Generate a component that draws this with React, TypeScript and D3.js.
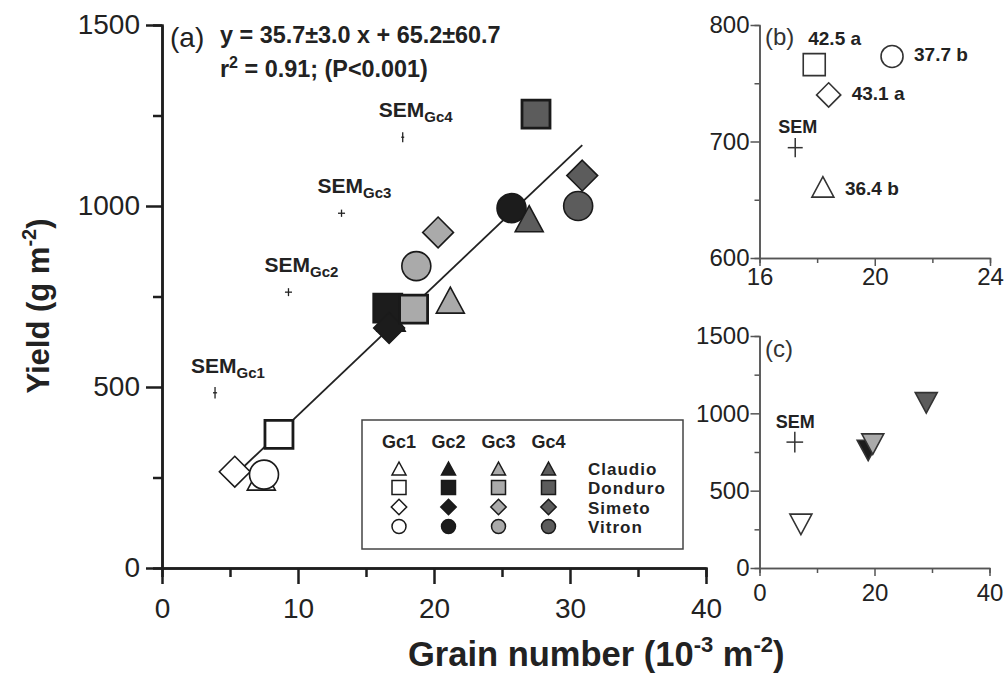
import { useRef, useEffect } from 'react';
import * as d3 from 'd3';

// genotipi e classi (Gc = gruppi di condizioni colturali)
const cultivars = ['Claudio', 'Donduro', 'Simeto', 'Vitron'];
const groups = ['Gc1', 'Gc2', 'Gc3', 'Gc4'];

// pannello (a): numero di cariossidi (10^3 m-2) e resa (g m-2), stesso ordine di cultivars
const grainGc1 = [7.3, 8.6, 5.35, 7.5];
const yieldGc1 = [251, 369, 266, 258];
const grainGc2 = [16.85, 16.6, 16.7, 25.7];
const yieldGc2 = [690, 718, 663, 994];
const grainGc3 = [21.2, 18.5, 20.3, 18.7];
const yieldGc3 = [740, 715, 927, 834];
const grainGc4 = [27.0, 27.5, 30.9, 30.6];
const yieldGc4 = [965, 1254, 1084, 1000];

// retta di regressione
const slope = 35.7;
const intercept = 65.2;

// SEM per ciascun Gc
const semGrain = [3.9, 9.3, 13.2, 17.7];
const semYield = [484, 762, 980, 1190];
const semErrGrain = [0.15, 0.26, 0.26, 0.11];
const semErrYield = [16, 11, 10, 14];

// pannello (b): medie per cultivar
const grainB = [18.2, 17.9, 18.4, 20.6];
const yieldB = [661, 766, 740, 773];
const labelB = ['36.4 b', '42.5 a', '43.1 a', '37.7 b'];
const semB = { grain: 17.24, yield: 694.7, errGrain: 0.26, errYield: 8.3 };

// pannello (c): medie per Gc
const grainC = [7.2, 18.9, 19.7, 29.0];
const yieldC = [282, 760, 801, 1068];
const semC = { grain: 6.14, yield: 814, errGrain: 1.45, errYield: 67 };

// tick
const ticksAx = [0, 10, 20, 30, 40];
const ticksAxMinor = [5, 15, 25, 35];
const ticksAy = [0, 500, 1000, 1500];
const ticksAyMinor = [250, 750, 1250];
const ticksBx = [16, 20, 24];
const ticksBxMinor = [18, 22];
const ticksBy = [600, 700, 800];
const ticksByMinor = [650, 750];
const ticksCx = [0, 20, 40];
const ticksCxMinor = [10, 30];
const ticksCy = [0, 500, 1000, 1500];
const ticksCyMinor = [250, 750, 1250];

const FONT = '"Liberation Sans", Arial, sans-serif';
const fills = ['#ffffff', '#1c1c1c', '#aaaaaa', '#5c5c5c'];
const shapes = ['triangle', 'square', 'diamond', 'circle'];
const plain = (d: any) => String(d);

// forma del marcatore, centrata in (0,0)
function markerPath(shape: string, s: number) {
    const p = d3.path();
    if (shape === 'square') {
        p.rect(-s / 2, -s / 2, s, s);
    } else if (shape === 'circle') {
        p.arc(0, 0, s / 2, 0, 2 * Math.PI);
    } else if (shape === 'diamond') {
        const h = s * 0.55;
        p.moveTo(0, -h); p.lineTo(h, 0); p.lineTo(0, h); p.lineTo(-h, 0); p.closePath();
    } else if (shape === 'triangle') {
        const h = s * 0.93;
        p.moveTo(0, -h / 2); p.lineTo(s / 2, h / 2); p.lineTo(-s / 2, h / 2); p.closePath();
    } else if (shape === 'triangleDown') {
        const h = s * 0.93;
        p.moveTo(0, h / 2); p.lineTo(s / 2, -h / 2); p.lineTo(-s / 2, -h / 2); p.closePath();
    }
    return p.toString();
}

export default function App() {
    const svgRef = useRef<SVGSVGElement | null>(null);

    const draw = () => {
        const svg = d3.select(svgRef.current);
        svg.selectAll('*').remove();

        const styleAxis = (g: any, color: string, sw: number, fs: number) => {
            g.attr('font-family', FONT).attr('font-size', fs);
            g.select('.domain').attr('stroke', color).attr('stroke-width', sw);
            g.selectAll('.tick line').attr('stroke', color).attr('stroke-width', sw);
            g.selectAll('.tick text').attr('fill', '#222');
        };

        // ===== pannello (a) =====
        const x = d3.scaleLinear().domain([0, 40]).range([162, 706]);
        const y = d3.scaleLinear().domain([0, 1500]).range([568, 25]);

        const gA = svg.append('g');

        // tick minori
        gA.append('g').attr('transform', `translate(0,${y(0)})`)
            .call(d3.axisBottom(x).tickValues(ticksAxMinor).tickSize(9).tickFormat(() => ''))
            .call((g: any) => styleAxis(g, '#1e1e1e', 2.5, 28));
        gA.append('g').attr('transform', `translate(${x(0)},0)`)
            .call(d3.axisLeft(y).tickValues(ticksAyMinor).tickSize(9).tickFormat(() => ''))
            .call((g: any) => styleAxis(g, '#1e1e1e', 2.5, 28));

        gA.append('g').attr('transform', `translate(0,${y(0)})`)
            .call(d3.axisBottom(x).tickValues(ticksAx).tickFormat(plain).tickSize(16).tickSizeOuter(0).tickPadding(14))
            .call((g: any) => styleAxis(g, '#1e1e1e', 2.5, 28));
        gA.append('g').attr('transform', `translate(${x(0)},0)`)
            .call(d3.axisLeft(y).tickValues(ticksAy).tickFormat(plain).tickSize(16).tickSizeOuter(0).tickPadding(6))
            .call((g: any) => styleAxis(g, '#1e1e1e', 2.5, 28));

        // retta di regressione
        const allGrain = [...grainGc1, ...grainGc2, ...grainGc3, ...grainGc4];
        const ext = d3.extent(allGrain) as [number, number];
        gA.append('path')
            .attr('d', d3.line<number>().x(d => x(d)).y(d => y(slope * d + intercept))(ext))
            .attr('stroke', '#222').attr('stroke-width', 1.8).attr('fill', 'none');

        // punti
        const grains = [grainGc1, grainGc2, grainGc3, grainGc4];
        const yields = [yieldGc1, yieldGc2, yieldGc3, yieldGc4];
        const sizeA: Record<string, number> = { triangle: 28, square: 28, diamond: 28, circle: 29 };
        groups.forEach((_, gi) => {
            cultivars.forEach((_c, ci) => {
                const shape = shapes[ci];
                gA.append('path')
                    .attr('d', markerPath(shape, sizeA[shape]))
                    .attr('transform', `translate(${x(grains[gi][ci])},${y(yields[gi][ci])})`)
                    .attr('fill', fills[gi])
                    .attr('stroke', '#1a1a1a')
                    .attr('stroke-width', shape === 'square' ? 2.8 : 1.6);
            });
        });

        // croci SEM
        groups.forEach((gc, i) => {
            const cx = x(semGrain[i]), cy = y(semYield[i]);
            gA.append('line').attr('x1', x(semGrain[i] - semErrGrain[i])).attr('x2', x(semGrain[i] + semErrGrain[i]))
                .attr('y1', cy).attr('y2', cy).attr('stroke', '#222').attr('stroke-width', 1.3);
            gA.append('line').attr('x1', cx).attr('x2', cx)
                .attr('y1', y(semYield[i] - semErrYield[i])).attr('y2', y(semYield[i] + semErrYield[i]))
                .attr('stroke', '#222').attr('stroke-width', 1.3);
            const t = gA.append('text').attr('x', cx - 24).attr('y', cy - 20)
                .attr('font-family', FONT).attr('font-weight', 'bold').attr('font-size', 21).attr('fill', '#222');
            t.append('tspan').text('SEM');
            t.append('tspan').attr('font-size', 15).attr('dy', 5).text(gc);
        });

        // testo equazione
        gA.append('text').attr('x', 170).attr('y', 47).attr('font-family', FONT).attr('font-size', 28)
            .attr('fill', '#222').text('(a)');
        gA.append('text').attr('x', 220).attr('y', 43).attr('font-family', FONT).attr('font-weight', 'bold')
            .attr('font-size', 23.4).attr('fill', '#222').text('y = 35.7±3.0 x + 65.2±60.7');
        const r2 = gA.append('text').attr('x', 220).attr('y', 77).attr('font-family', FONT).attr('font-weight', 'bold')
            .attr('font-size', 23.4).attr('fill', '#222');
        r2.append('tspan').text('r');
        r2.append('tspan').attr('font-size', 16).attr('dy', -9).text('2');
        r2.append('tspan').attr('dy', 9).text(' = 0.91; (P<0.001)');

        // legenda
        const lg = gA.append('g');
        lg.append('rect').attr('x', 362).attr('y', 420).attr('width', 321).attr('height', 129)
            .attr('fill', '#fff').attr('stroke', '#444').attr('stroke-width', 1.5);
        const colX = [399, 448.5, 498.5, 548.5];
        const rowY = [468.5, 487.5, 507, 526.5];
        groups.forEach((gc, gi) => {
            lg.append('text').attr('x', colX[gi]).attr('y', 448).attr('text-anchor', 'middle')
                .attr('font-family', FONT).attr('font-weight', 'bold').attr('font-size', 18).attr('fill', '#222').text(gc);
            cultivars.forEach((_c, ci) => {
                lg.append('path').attr('d', markerPath(shapes[ci], 14))
                    .attr('transform', `translate(${colX[gi]},${rowY[ci]})`)
                    .attr('fill', fills[gi]).attr('stroke', '#1a1a1a').attr('stroke-width', 1.5);
            });
        });
        cultivars.forEach((c, ci) => {
            lg.append('text').attr('x', 588).attr('y', rowY[ci] + 6.5)
                .attr('font-family', FONT).attr('font-weight', 'bold').attr('font-size', 17)
                .attr('letter-spacing', 1).attr('fill', '#222').text(c);
        });

        // titoli assi
        const yl = svg.append('text').attr('transform', 'translate(49,306) rotate(-90)').attr('text-anchor', 'middle')
            .attr('font-family', FONT).attr('font-weight', 'bold').attr('font-size', 31).attr('fill', '#222');
        yl.append('tspan').text('Yield (g m');
        yl.append('tspan').attr('font-size', 20).attr('dy', -13).text('-2');
        yl.append('tspan').attr('dy', 13).text(')');

        const xl = svg.append('text').attr('x', 408).attr('y', 666)
            .attr('font-family', FONT).attr('font-weight', 'bold').attr('font-size', 34.5).attr('fill', '#222');
        xl.append('tspan').text('Grain number (10');
        xl.append('tspan').attr('font-size', 22).attr('dy', -14).text('-3');
        xl.append('tspan').attr('dy', 14).text(' m');
        xl.append('tspan').attr('font-size', 22).attr('dy', -14).text('-2');
        xl.append('tspan').attr('dy', 14).text(')');

        // ===== pannello (b) =====
        const xb = d3.scaleLinear().domain([16, 24]).range([759.5, 990]);
        const yb = d3.scaleLinear().domain([600, 800]).range([258, 25]);
        const gB = svg.append('g');
        gB.append('g').attr('transform', `translate(0,${yb(600)})`)
            .call(d3.axisBottom(xb).tickValues(ticksBxMinor).tickSize(5).tickFormat(() => ''))
            .call((g: any) => styleAxis(g, '#555', 1.5, 24));
        gB.append('g').attr('transform', `translate(${xb(16)},0)`)
            .call(d3.axisLeft(yb).tickValues(ticksByMinor).tickSize(5).tickFormat(() => ''))
            .call((g: any) => styleAxis(g, '#555', 1.5, 24));
        gB.append('g').attr('transform', `translate(0,${yb(600)})`)
            .call(d3.axisBottom(xb).tickValues(ticksBx).tickFormat(plain).tickSize(8).tickSizeOuter(0).tickPadding(2))
            .call((g: any) => styleAxis(g, '#555', 1.5, 24));
        gB.append('g').attr('transform', `translate(${xb(16)},0)`)
            .call(d3.axisLeft(yb).tickValues(ticksBy).tickFormat(plain).tickSize(9).tickSizeOuter(0).tickPadding(1))
            .call((g: any) => styleAxis(g, '#555', 1.5, 24));

        const offB = [[22, 8], [-6, -20], [23, 5], [22, 5]];
        cultivars.forEach((_c, ci) => {
            const px = xb(grainB[ci]), py = yb(yieldB[ci]);
            gB.append('path').attr('d', markerPath(shapes[ci], 22))
                .attr('transform', `translate(${px},${py})`)
                .attr('fill', '#fff').attr('stroke', '#333').attr('stroke-width', 1.6);
            gB.append('text').attr('x', px + offB[ci][0]).attr('y', py + offB[ci][1])
                .attr('font-family', FONT).attr('font-weight', 'bold').attr('font-size', 19).attr('fill', '#222')
                .text(labelB[ci]);
        });
        gB.append('line').attr('x1', xb(semB.grain - semB.errGrain)).attr('x2', xb(semB.grain + semB.errGrain))
            .attr('y1', yb(semB.yield)).attr('y2', yb(semB.yield)).attr('stroke', '#333').attr('stroke-width', 1.5);
        gB.append('line').attr('x1', xb(semB.grain)).attr('x2', xb(semB.grain))
            .attr('y1', yb(semB.yield - semB.errYield)).attr('y2', yb(semB.yield + semB.errYield)).attr('stroke', '#333').attr('stroke-width', 1.5);
        gB.append('text').attr('x', xb(semB.grain) - 17).attr('y', yb(semB.yield) - 15)
            .attr('font-family', FONT).attr('font-weight', 'bold').attr('font-size', 18).attr('fill', '#222').text('SEM');
        gB.append('text').attr('x', 765).attr('y', 45).attr('font-family', FONT).attr('font-size', 24)
            .attr('fill', '#333').text('(b)');

        // ===== pannello (c) =====
        const xc = d3.scaleLinear().domain([0, 40]).range([759.5, 989.5]);
        const yc = d3.scaleLinear().domain([0, 1500]).range([568, 336]);
        const gC = svg.append('g');
        gC.append('g').attr('transform', `translate(0,${yc(0)})`)
            .call(d3.axisBottom(xc).tickValues(ticksCxMinor).tickSize(5).tickFormat(() => ''))
            .call((g: any) => styleAxis(g, '#555', 1.5, 24));
        gC.append('g').attr('transform', `translate(${xc(0)},0)`)
            .call(d3.axisLeft(yc).tickValues(ticksCyMinor).tickSize(5).tickFormat(() => ''))
            .call((g: any) => styleAxis(g, '#555', 1.5, 24));
        gC.append('g').attr('transform', `translate(0,${yc(0)})`)
            .call(d3.axisBottom(xc).tickValues(ticksCx).tickFormat(plain).tickSize(8).tickSizeOuter(0).tickPadding(8))
            .call((g: any) => styleAxis(g, '#555', 1.5, 24));
        gC.append('g').attr('transform', `translate(${xc(0)},0)`)
            .call(d3.axisLeft(yc).tickValues(ticksCy).tickFormat(plain).tickSize(9).tickSizeOuter(0).tickPadding(1))
            .call((g: any) => styleAxis(g, '#555', 1.5, 24));

        groups.forEach((_g, gi) => {
            gC.append('path').attr('d', markerPath('triangleDown', 22))
                .attr('transform', `translate(${xc(grainC[gi])},${yc(yieldC[gi])})`)
                .attr('fill', fills[gi]).attr('stroke', '#333').attr('stroke-width', 1.6);
        });
        gC.append('line').attr('x1', xc(semC.grain - semC.errGrain)).attr('x2', xc(semC.grain + semC.errGrain))
            .attr('y1', yc(semC.yield)).attr('y2', yc(semC.yield)).attr('stroke', '#333').attr('stroke-width', 1.5);
        gC.append('line').attr('x1', xc(semC.grain)).attr('x2', xc(semC.grain))
            .attr('y1', yc(semC.yield - semC.errYield)).attr('y2', yc(semC.yield + semC.errYield)).attr('stroke', '#333').attr('stroke-width', 1.5);
        gC.append('text').attr('x', xc(semC.grain) - 19).attr('y', yc(semC.yield) - 14)
            .attr('font-family', FONT).attr('font-weight', 'bold').attr('font-size', 18).attr('fill', '#222').text('SEM');
        gC.append('text').attr('x', 765).attr('y', 357).attr('font-family', FONT).attr('font-size', 24)
            .attr('fill', '#333').text('(c)');
    };

    useEffect(() => {
        draw();
    }, []);

    return (
        <svg ref={svgRef} width={1008} height={678}
            style={{ position: 'absolute', left: 0, top: 0, background: '#fff' }}></svg>
    );
}
